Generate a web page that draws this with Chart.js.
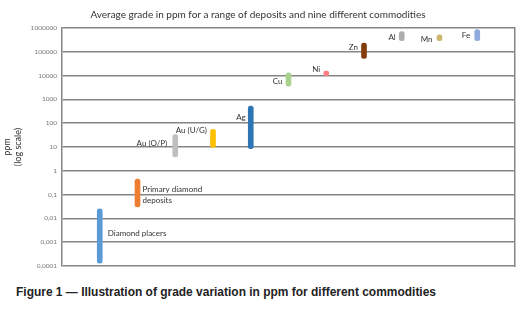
<!DOCTYPE html>
<html>
<head>
<meta charset="utf-8">
<script src="https://cdn.jsdelivr.net/npm/chart.js@4.4.1/dist/chart.umd.min.js"></script>
<style>
  body { margin: 0; background: #fff; width: 519px; height: 313px; overflow: hidden; }
  #wrap { position: relative; width: 519px; height: 275px; }
  #caption {
    position: absolute; left: 16px; top: 284px; white-space: nowrap;
    font-family: "Liberation Sans Narrow", "Liberation Sans", Arial, sans-serif;
    font-weight: bold; font-size: 13px; color: #222; transform-origin: 0 0;
  }
</style>
</head>
<body>
<div id="wrap"><canvas id="myChart" width="519" height="275"></canvas></div>
<div id="caption">Figure 1 — Illustration of grade variation in ppm for different commodities</div>
<script>
// categorias (com vazio nas pontas para o espaçamento)
const commodities = ['', 'Diamond placers', 'Primary diamond deposits', 'Au (O/P)', 'Au (U/G)', 'Ag',
    'Cu', 'Ni', 'Zn', 'Al', 'Mn', 'Fe', ''];
const gradeLow  = [null, 0.00013, 0.03, 3.8, 9.5, 8.5, 3600, 10000, 53000, 290000, 290000, 290000, null];
const gradeHigh = [null, 0.025, 0.45, 33, 55, 520, 13000, 15500, 230000, 700000, 520000, 850000, null];
const barColors = ['#fff', '#5B9BD5', '#ED7D31', '#BFBFBF', '#FFC000', '#2E75B6',
    '#A9D18E', '#FF7C80', '#843C0C', '#ADADAD', '#CDB56E', '#8FAADC', '#fff'];
const yTickValues = [0.0001, 0.001, 0.01, 0.1, 1, 10, 100, 1000, 10000, 100000, 1000000];
const yTickLabels = ['0,0001', '0,001', '0,01', '0,1', '1', '10', '100', '1000', '10000', '100000', '1000000'];

// rótulos ao lado das barras: [texto, alinhamento, dx, dy a partir do topo da barra]
const barLabels = [
    null,
    [['Diamond placers'], 'left', 8, 24],
    [['Primary diamond', 'deposits'], 'left', 5, 10],
    [['Au (O/P)'], 'right', -8, 9],
    [['Au (U/G)'], 'right', -6, 1],
    [['Ag'], 'right', -5, 11],
    [['Cu'], 'right', -6, 9],
    [['Ni'], 'right', -6, -2],
    [['Zn'], 'right', -6, 4],
    [['Al'], 'right', -6, 6],
    [['Mn'], 'right', -7, 5],
    [['Fe'], 'right', -7, 6],
    null
];

const grid = '#858585';

const labelPlugin = {
    id: 'barLabels',
    afterDatasetsDraw(chart) {
        const ctx = chart.ctx;
        const meta = chart.getDatasetMeta(0);
        ctx.save();
        ctx.font = '8px Lato';
        ctx.fillStyle = '#333';
        ctx.textBaseline = 'middle';
        meta.data.forEach(function(bar, i) {
            const lab = barLabels[i];
            if (!lab || gradeHigh[i] === null) return;
            const top = chart.scales.y.getPixelForValue(gradeHigh[i]);
            ctx.textAlign = lab[1];
            lab[0].forEach(function(line, j) {
                ctx.fillText(line, bar.x + lab[2], top + lab[3] + j * 11);
            });
        });
        ctx.restore();
    }
};

let data = [];
for (let i = 0; i < commodities.length; i++) {
    data.push(gradeLow[i] === null ? null : [gradeLow[i], gradeHigh[i]]);
}

let ctx = document.getElementById('myChart').getContext('2d');
new Chart(ctx, {
    type: 'bar',
    data: {
        labels: commodities,
        datasets: [{
            data: data,
            backgroundColor: barColors,
            barThickness: 5,
            borderRadius: 3,
            borderSkipped: false
        }]
    },
    options: {
        responsive: false,
        animation: false,
        layout: { padding: { left: 0, right: 3, top: 0, bottom: 1 } },
        plugins: {
            legend: { display: false },
            tooltip: { enabled: false },
            title: {
                display: true,
                text: 'Average grade in ppm for a range of deposits and nine different commodities',
                font: { family: 'Lato', size: 10, weight: 'normal' },
                color: '#333',
                padding: { top: 9, bottom: 7 }
            }
        },
        scales: {
            x: {
                offset: false,
                ticks: { display: false },
                border: { display: false },
                grid: { display: false }
            },
            y: {
                type: 'logarithmic',
                min: 0.0001,
                max: 1000000,
                afterBuildTicks: function(scale) {
                    scale.ticks = yTickValues.map(function(v) { return { value: v }; });
                },
                afterFit: function(scale) { scale.width = 62; },
                ticks: {
                    font: { family: 'Lato', size: 6.5 },
                    color: '#777',
                    padding: 5,
                    callback: function(v, i) { return yTickLabels[i]; }
                },
                border: { display: true, color: grid, width: 1.5 },
                grid: { color: grid, lineWidth: 1.5, drawTicks: false },
                title: {
                    display: true,
                    text: ['ppm', '(log scale)'],
                    font: { family: 'Lato', size: 9 },
                    color: '#333',
                    padding: { top: 2, bottom: 0 }
                }
            },
            // eixo da direita só para a borda do gráfico
            yRight: {
                type: 'linear',
                position: 'right',
                min: 0,
                max: 1,
                ticks: { display: false },
                grid: { drawOnChartArea: false, drawTicks: false },
                border: { display: true, color: grid, width: 1.5 },
                afterFit: function(scale) { scale.width = 1; }
            }
        }
    },
    plugins: [labelPlugin]
});

// ajusta a largura da legenda da figura
let cap = document.getElementById('caption');
let w = cap.getBoundingClientRect().width;
cap.style.transform = 'scaleX(' + (420 / w) + ')';
</script>
</body>
</html>
